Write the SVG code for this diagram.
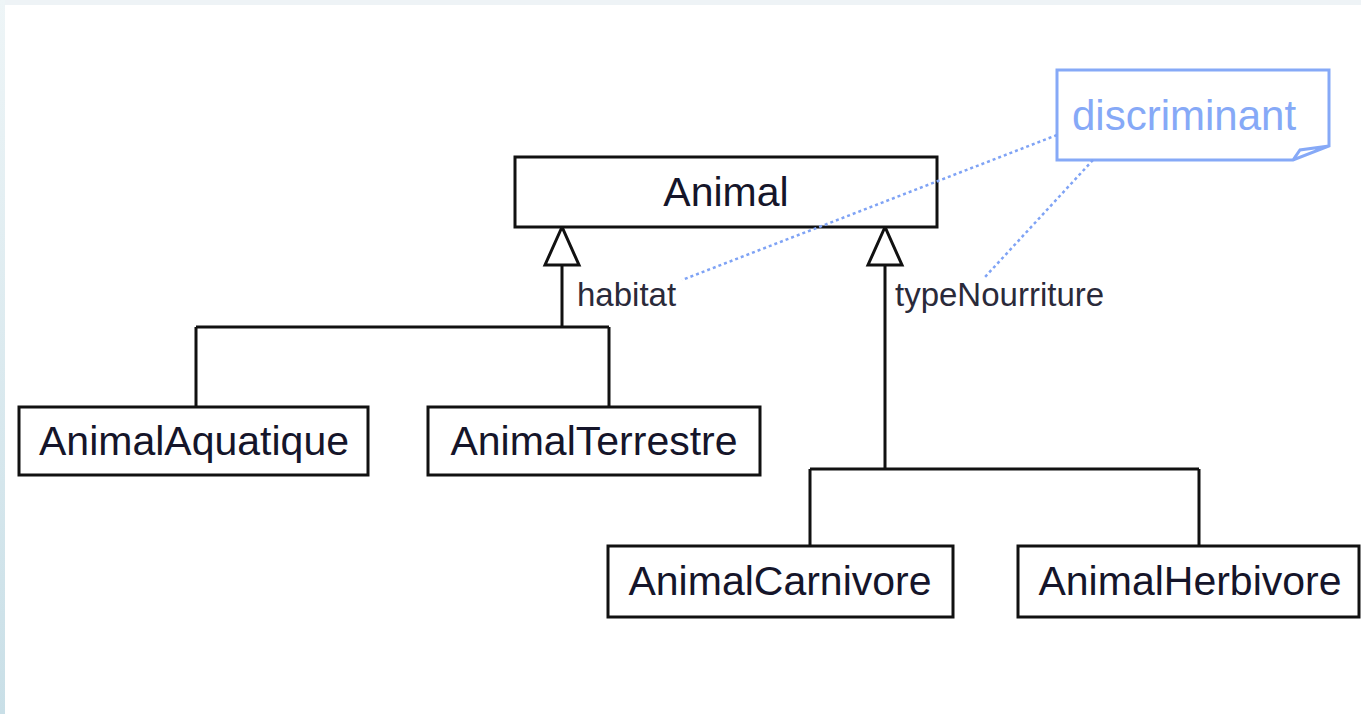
<svg xmlns="http://www.w3.org/2000/svg" width="1361" height="714" viewBox="0 0 1361 714">
  <style>
    .cls rect { fill: #ffffff; stroke: #111111; stroke-width: 3; }
    .cls text { font-family: "Liberation Sans", Arial, sans-serif; font-size: 41px; fill: #15152a; text-anchor: middle; }
    .gen { fill: none; stroke: #111111; stroke-width: 3; }
    .tri { fill: #ffffff; stroke: #111111; stroke-width: 3; stroke-linejoin: miter; }
    .lbl { font-family: "Liberation Sans", Arial, sans-serif; font-size: 33px; fill: #2a2a3a; }
    .dot { fill: none; stroke: #7fa3f5; stroke-width: 2.5; stroke-dasharray: 3 3; }
    .note path { fill: #ffffff; stroke: #86a9f7; stroke-width: 3; }
    .note text { font-family: "Liberation Sans", Arial, sans-serif; font-size: 42px; fill: #86a9f7; }
  </style>
  <defs>
    <linearGradient id="edge" x1="0" y1="0" x2="0" y2="1">
      <stop offset="0" stop-color="#eef5f7"/>
      <stop offset="1" stop-color="#c9dfe7"/>
    </linearGradient>
  </defs>

  <!-- page background and frame edges -->
  <rect x="0" y="0" width="1361" height="714" fill="#ffffff"/>
  <rect x="0" y="0" width="1361" height="5" fill="#eef3f6"/>
  <rect x="0" y="0" width="5" height="714" fill="url(#edge)"/>

  <!-- generalization connectors -->
  <g id="connectors">
    <!-- habitat generalization set -->
    <path class="gen" d="M562 265 V327 M196 327 H609 M196 327 V407 M609 327 V407"/>
    <polygon class="tri" points="562,227 545,265 579,265"/>
    <text class="lbl" x="577" y="306">habitat</text>
    <!-- typeNourriture generalization set -->
    <path class="gen" d="M885 265 V469 M810 469 H1199 M810 469 V546 M1199 469 V546"/>
    <polygon class="tri" points="885,227 868,265 902,265"/>
    <text class="lbl" x="895" y="306">typeNourriture</text>
  </g>

  <g id="animal" class="cls">
    <rect x="515" y="157" width="422" height="70"/>
    <text x="726" y="206">Animal</text>
  </g>

  <g id="animal-aquatique" class="cls">
    <rect x="19" y="407" width="349" height="68"/>
    <text x="194" y="455">AnimalAquatique</text>
  </g>

  <g id="animal-terrestre" class="cls">
    <rect x="428" y="407" width="332" height="68"/>
    <text x="594" y="455">AnimalTerrestre</text>
  </g>

  <g id="animal-carnivore" class="cls">
    <rect x="608" y="546" width="345" height="71"/>
    <text x="780" y="595">AnimalCarnivore</text>
  </g>

  <g id="animal-herbivore" class="cls">
    <rect x="1018" y="546" width="341" height="71"/>
    <text x="1190" y="595">AnimalHerbivore</text>
  </g>

  <g id="note-discriminant" class="note">
    <path d="M1057 70 H1329 V146 L1293 160 H1057 Z M1293 160 L1300 150 L1329 146"/>
    <text x="1072" y="130">discriminant</text>
  </g>

  <!-- note anchors, drawn over the class boxes -->
  <g id="note-links">
    <path class="dot" d="M1057 135 L682 280"/>
    <path class="dot" d="M1093 160 L985 277"/>
  </g>
</svg>
